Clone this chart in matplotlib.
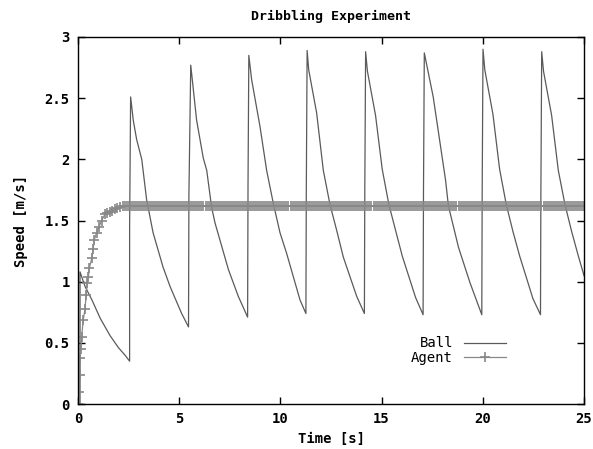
#! -*- coding: utf-8 -*-
import numpy as np
import matplotlib
matplotlib.use('Agg')
import matplotlib.pyplot as plt

#---------------------------------
# データ
#---------------------------------
# Ball : 区間ごとの (時刻, 速度)
ball_c0_t = [0.0, 0.1, 0.1, 0.35, 0.69, 1.10, 1.58, 2.00, 2.32, 2.55]
ball_c0_v = [0.0, 0.0, 1.08, 0.96, 0.85, 0.70, 0.56, 0.46, 0.40, 0.35]
ball_c1_t = [2.55, 2.60, 2.73, 2.90, 3.15, 3.39, 3.71, 4.20, 4.55, 5.12, 5.46]
ball_c1_v = [1.45, 2.51, 2.32, 2.16, 2.00, 1.67, 1.40, 1.12, 0.96, 0.74, 0.63]
ball_c2_t = [5.46, 5.48, 5.57, 5.86, 6.19, 6.36, 6.60, 6.77, 7.43, 7.92, 8.38]
ball_c2_v = [0.63, 1.71, 2.77, 2.32, 2.01, 1.91, 1.61, 1.48, 1.10, 0.88, 0.71]
ball_c3_t = [8.38, 8.40, 8.44, 8.58, 8.99, 9.32, 9.65, 9.98, 10.31, 10.97, 11.26]
ball_c3_v = [0.71, 1.79, 2.85, 2.65, 2.27, 1.91, 1.64, 1.40, 1.23, 0.85, 0.74]
ball_c4_t = [11.26, 11.28, 11.32, 11.40, 11.79, 12.12, 12.45, 12.78, 13.11, 13.77, 14.15]
ball_c4_v = [0.74, 1.75, 2.89, 2.73, 2.38, 1.91, 1.63, 1.42, 1.20, 0.88, 0.74]
ball_c5_t = [14.15, 14.17, 14.21, 14.30, 14.70, 15.03, 15.36, 15.69, 16.02, 16.68, 17.05]
ball_c5_v = [0.74, 1.75, 2.88, 2.72, 2.36, 1.92, 1.63, 1.42, 1.21, 0.87, 0.73]
ball_c6_t = [17.05, 17.07, 17.11, 17.55, 18.16, 18.30, 18.80, 19.37, 19.95]
ball_c6_v = [0.73, 1.75, 2.87, 2.51, 1.83, 1.62, 1.28, 0.99, 0.73]
ball_c7_t = [19.95, 19.97, 20.01, 20.10, 20.50, 20.83, 21.16, 21.49, 21.82, 22.48, 22.85]
ball_c7_v = [0.73, 1.75, 2.90, 2.73, 2.37, 1.92, 1.63, 1.41, 1.21, 0.86, 0.73]
ball_c8_t = [22.85, 22.87, 22.91, 23.00, 23.40, 23.73, 24.06, 24.39, 24.72, 25.0]
ball_c8_v = [0.73, 1.75, 2.88, 2.72, 2.36, 1.91, 1.63, 1.41, 1.21, 1.05]

# Agent : 立ち上がり部分と定常部分
agent_rise_t = [0.0, 0.05, 0.08, 0.10, 0.14, 0.18, 0.26, 0.35, 0.40, 0.46, 0.51, 0.56,
                0.68, 0.75, 0.80, 0.92, 1.04, 1.17, 1.33, 1.45, 1.58, 1.70, 1.83, 1.95, 2.07]
agent_rise_v = [0.0, 0.10, 0.24, 0.38, 0.45, 0.55, 0.69, 0.78, 0.89, 0.99, 1.04, 1.11,
                1.19, 1.27, 1.34, 1.40, 1.45, 1.50, 1.55, 1.56, 1.57, 1.58, 1.59, 1.60, 1.61]
agent_steady_v = 1.62
agent_steady_t0 = 2.2
agent_steady_t1 = 25.0

x_ticks = [0, 5, 10, 15, 20, 25]
y_ticks = [0, 0.5, 1, 1.5, 2, 2.5, 3]
y_ticklabels = ['0', '0.5', '1', '1.5', '2', '2.5', '3']

#---------------------------------
# メイン処理
#---------------------------------
def main():
    ball_t = np.concatenate([ball_c0_t, ball_c1_t, ball_c2_t, ball_c3_t, ball_c4_t,
                             ball_c5_t, ball_c6_t, ball_c7_t, ball_c8_t])
    ball_v = np.concatenate([ball_c0_v, ball_c1_v, ball_c2_v, ball_c3_v, ball_c4_v,
                             ball_c5_v, ball_c6_v, ball_c7_v, ball_c8_v])

    steady_t = np.arange(agent_steady_t0, agent_steady_t1 + 1e-9, 0.1)
    agent_t = np.concatenate([agent_rise_t, steady_t])
    agent_v = np.concatenate([agent_rise_v, np.full(len(steady_t), agent_steady_v)])

    mono = ['DejaVu Sans Mono']
    fig = plt.figure(figsize=(5.93, 4.49), dpi=100)
    ax = fig.add_axes([78/593, 45/449, 506/593, 367/449])

    ax.plot(ball_t, ball_v, color='#5a5a5a', lw=0.9, label='Ball')
    ax.plot(agent_t, agent_v, color='#888888', lw=0.9, marker='+', ms=6.5, mew=1.2, label='Agent')

    ax.set_xlim(0, 25)
    ax.set_ylim(0, 3)
    ax.set_xticks(x_ticks)
    ax.set_xticklabels([str(v) for v in x_ticks], family=mono, fontsize=10, weight='bold')
    ax.set_yticks(y_ticks)
    ax.set_yticklabels(y_ticklabels, family=mono, fontsize=10, weight='bold')
    ax.tick_params(direction='in', length=5, width=1, top=True, right=True, pad=6)
    for sp in ax.spines.values():
        sp.set_linewidth(1.0)

    ax.set_title('Dribbling Experiment', family=mono, fontsize=9.5, weight='bold', pad=12)
    ax.set_xlabel('Time [s]', family=mono, fontsize=10, weight='bold', labelpad=4)
    ax.set_ylabel('Speed [m/s]', family=mono, fontsize=10, weight='bold', labelpad=12)

    leg = ax.legend(loc='center right', bbox_to_anchor=(0.87, 0.145), frameon=False,
                    markerfirst=False, handlelength=3.0, handletextpad=0.8,
                    labelspacing=0.05, numpoints=1, prop={'family': mono, 'size': 10})
    for t in leg.get_texts():
        t.set_ha('right')

    plt.savefig('out.png', dpi=100)
    plt.close()

if __name__ == '__main__':
    main()
